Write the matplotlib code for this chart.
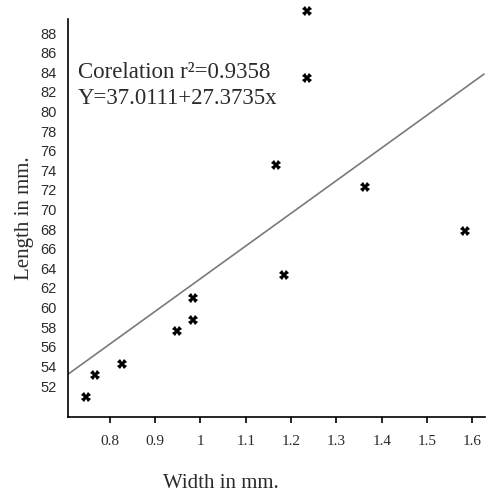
import matplotlib
matplotlib.use("Agg")
import matplotlib.pyplot as plt

# Data
width_mm = [0.748, 0.767, 0.827, 0.948, 0.984, 0.984, 1.167, 1.235, 1.235, 1.363, 1.583, 1.184]
length_mm = [50.9, 53.1, 54.25, 57.6, 60.97, 58.73, 74.54, 90.24, 83.41, 72.3, 67.8, 63.32]
fit_x = [0.705, 1.625]
fit_y = [53.1, 83.8]
x_ticks = [0.8, 0.9, 1.0, 1.1, 1.2, 1.3, 1.4, 1.5, 1.6]
x_tick_labels = ["0.8", "0.9", "1", "1.1", "1.2", "1.3", "1.4", "1.5", "1.6"]
y_ticks = list(range(52, 90, 2))
y_tick_marks = [52, 58, 62, 66, 70, 74, 78, 82, 86]
annotation_lines = ["Corelation r\u00b2=0.9358", "Y=37.0111+27.3735x"]

txt = "#2b2b2b"
plt.rcParams['font.family'] = ['Liberation Serif', 'DejaVu Serif']

fig = plt.figure(figsize=(4.88, 4.97), dpi=100)
ax = fig.add_axes([68/488, 1 - 417/497, (485 - 68)/488, (417 - 19)/497])

ax.plot(fit_x, fit_y, color="#7a7a7a", lw=1.2, zorder=2)
ax.plot(width_mm, length_mm, linestyle="none", marker="X", color="black",
        markersize=7, markeredgewidth=0, clip_on=False, zorder=3)

ax.set_xlim(0.708, 1.6276)
ax.set_ylim(48.84, 89.43)

for s in ["top", "right"]:
    ax.spines[s].set_visible(False)
for s in ["left", "bottom"]:
    ax.spines[s].set_color("black")
    ax.spines[s].set_linewidth(1.2)

ax.set_xticks(x_ticks)
ax.set_xticklabels(x_tick_labels)
ax.set_yticks(y_ticks)
ax.set_yticks(y_tick_marks, minor=True)
ax.tick_params(axis="x", which="major", length=4, width=1.2, direction="out",
               pad=9, labelsize=11, labelcolor=txt, color="black")
ax.tick_params(axis="y", which="major", length=0, pad=8, labelsize=10.5, labelcolor=txt)
ax.tick_params(axis="y", which="minor", length=3, width=1.0, direction="out", color="black")
for lab in ax.get_yticklabels():
    lab.set_family(['Liberation Sans', 'DejaVu Sans'])

for i, line in enumerate(annotation_lines):
    ax.text(78/488, 1 - (72 + 26*i)/497, line, transform=fig.transFigure, fontsize=16.5,
            color=txt, va="center", ha="left")

fig.text(221/488, 1 - 483/497, "Width in mm.", fontsize=15, color=txt, ha="center", va="center")
fig.text(24/488, 1 - 218/497, "Length in mm.", fontsize=15, color=txt, ha="center",
         va="center", rotation=90)

fig.savefig("out.png", dpi=100)
